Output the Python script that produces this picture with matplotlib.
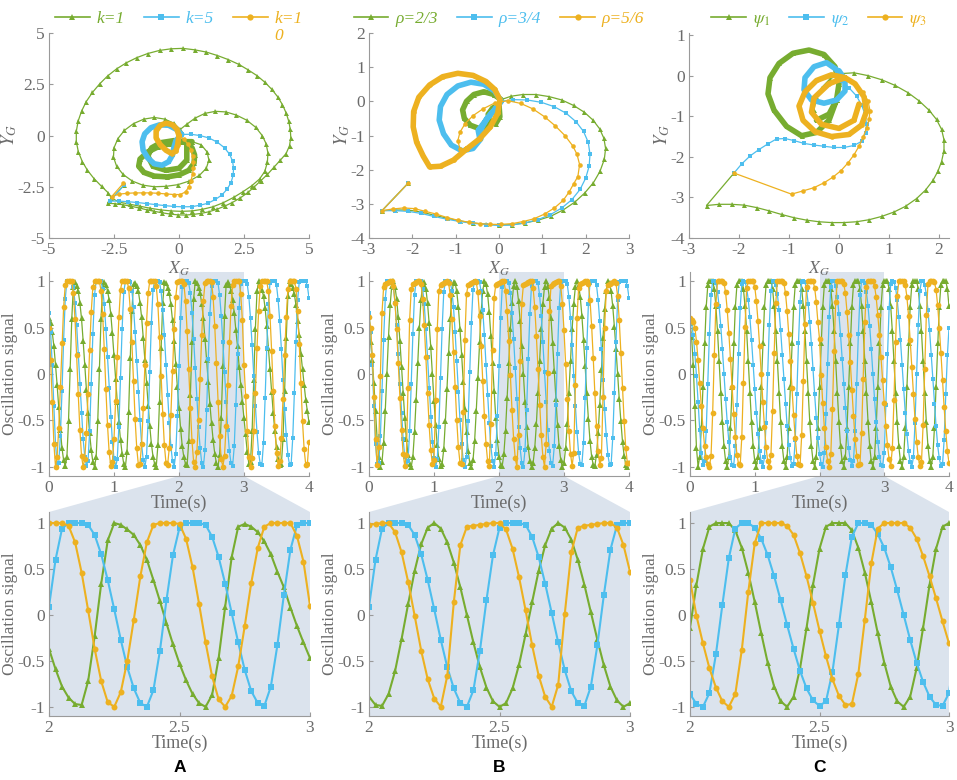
import numpy as np
import matplotlib
matplotlib.use('Agg')
import matplotlib.pyplot as plt
from matplotlib.lines import Line2D
from matplotlib.patches import Polygon

plt.rcParams['font.family'] = ['Liberation Serif', 'DejaVu Serif']
plt.rcParams['mathtext.fontset'] = 'stix'
plt.rcParams['axes.unicode_minus'] = False

GREEN = '#77AC30'
BLUE = '#4DBEEE'
ORANGE = '#EDB120'
AXIS_GRAY = '#9a9a9a'
TEXT_GRAY = '#6b6b6b'
SHADE = '#dbe3ed'

W, H = 957, 780

# ============================================================
# Phase portraits (X_G, Y_G)
# ============================================================

# --- panel A: k=1 / k=5 / k=10 ---
a_k1_path = [(-2.1, -2.4), (-2.75, -3.3), (-2.45, -3.33), (-2.15, -3.38), (-1.85, -3.45), (-1.55, -3.53),
             (-1.25, -3.62), (-0.95, -3.7), (-0.65, -3.77), (-0.35, -3.83), (-0.05, -3.87), (0.25, -3.88),
             (0.55, -3.85), (0.85, -3.8), (1.15, -3.72), (1.45, -3.6), (1.75, -3.45), (2.05, -3.27),
             (2.35, -3.05), (2.65, -2.78), (2.9, -2.5), (3.15, -2.2), (3.4, -1.9), (3.65, -1.55), (3.9, -1.2),
             (4.12, -0.88), (4.25, -0.5), (4.3, -0.1), (4.28, 0.3), (4.22, 0.7), (4.12, 1.1), (3.98, 1.5),
             (3.8, 1.88), (3.57, 2.25), (3.3, 2.6), (3.0, 2.92), (2.66, 3.2), (2.3, 3.47), (1.9, 3.7),
             (1.48, 3.9), (1.05, 4.07), (0.6, 4.18), (0.15, 4.25), (-0.3, 4.23), (-0.75, 4.15), (-1.2, 4.0),
             (-1.62, 3.8), (-2.02, 3.55), (-2.4, 3.25), (-2.75, 2.9), (-3.05, 2.52), (-3.33, 2.1),
             (-3.57, 1.65), (-3.75, 1.18), (-3.88, 0.7), (-3.95, 0.2), (-3.95, -0.3), (-3.87, -0.8),
             (-3.72, -1.27), (-3.52, -1.7), (-3.27, -2.1), (-2.98, -2.48), (-2.72, -2.8), (-2.6, -3.05),
             (-2.3, -3.25), (-1.9, -3.35), (-1.5, -3.45), (-1.1, -3.55), (-0.7, -3.63), (-0.3, -3.68),
             (0.1, -3.7), (0.5, -3.68), (0.9, -3.6), (1.3, -3.48), (1.7, -3.28), (2.1, -3.02), (2.45, -2.75),
             (2.8, -2.45), (3.1, -2.12), (3.3, -1.75), (3.4, -1.3), (3.42, -0.85), (3.35, -0.4), (3.2, 0.0),
             (2.95, 0.4), (2.6, 0.75), (2.2, 1.0), (1.8, 1.15), (1.4, 1.18), (1.0, 1.08), (0.62, 0.85),
             (0.3, 0.55), (0.05, 0.3), (-0.2, 0.6), (-0.55, 0.8), (-0.95, 0.88), (-1.35, 0.8), (-1.75, 0.58),
             (-2.1, 0.25), (-2.35, -0.15), (-2.5, -0.6), (-2.52, -1.05), (-2.4, -1.5), (-2.15, -1.9),
             (-1.8, -2.22), (-1.4, -2.42), (-0.95, -2.5), (-0.5, -2.48), (-0.05, -2.4), (0.4, -2.22),
             (0.78, -1.95), (1.05, -1.6), (1.15, -1.2), (1.08, -0.8), (0.85, -0.45), (0.5, -0.3)]
a_k1_loop = [(0.5, -0.3), (0.1, -0.3), (-0.35, -0.4), (-0.8, -0.55), (-1.2, -0.8), (-1.5, -1.15),
             (-1.55, -1.5), (-1.35, -1.8), (-0.95, -1.98), (-0.45, -2.02), (0.0, -1.92), (0.38, -1.7),
             (0.58, -1.35), (0.6, -0.95), (0.5, -0.6), (0.3, -0.35), (-0.2, -0.25), (-0.7, -0.35),
             (-1.05, -0.6), (-1.2, -1.0), (-1.0, -1.5), (-0.5, -1.7), (0.0, -1.6), (0.3, -1.2), (0.3, -0.35)]
a_k5_path = [(-2.1, -2.4), (-2.65, -3.2), (-2.3, -3.2), (-1.95, -3.23), (-1.6, -3.27), (-1.25, -3.32),
             (-0.9, -3.37), (-0.55, -3.42), (-0.2, -3.46), (0.15, -3.48), (0.5, -3.47), (0.82, -3.4),
             (1.12, -3.3), (1.4, -3.12), (1.65, -2.9), (1.85, -2.62), (2.0, -2.3), (2.08, -1.95),
             (2.1, -1.6), (2.06, -1.25), (1.95, -0.92), (1.75, -0.6), (1.48, -0.33), (1.15, -0.12),
             (0.8, 0.0), (0.45, 0.06), (0.1, 0.05)]
a_k5_loop = [(0.1, 0.05), (-0.1, 0.3), (-0.4, 0.5), (-0.75, 0.52), (-1.08, 0.38), (-1.32, 0.08),
             (-1.42, -0.3), (-1.38, -0.72), (-1.2, -1.1), (-0.95, -1.38), (-0.65, -1.45), (-0.4, -1.28),
             (-0.25, -0.95), (-0.2, -0.6), (-0.12, -0.25), (0.1, 0.05)]
a_k10_path = [(-2.14, -2.33), (-2.59, -2.98), (-2.3, -2.86), (-2.0, -2.82), (-1.7, -2.8), (-1.4, -2.8),
              (-1.1, -2.8), (-0.8, -2.82), (-0.5, -2.85), (-0.2, -2.88), (0.05, -2.88), (0.25, -2.75),
              (0.38, -2.5), (0.46, -2.2), (0.52, -1.9), (0.55, -1.6), (0.55, -1.3), (0.52, -1.0),
              (0.46, -0.7), (0.35, -0.42), (0.18, -0.18), (0.0, 0.0)]
a_k10_loop = [(0.0, 0.0), (-0.08, 0.3), (-0.25, 0.52), (-0.5, 0.6), (-0.72, 0.5), (-0.88, 0.22),
              (-0.88, -0.12), (-0.72, -0.45), (-0.5, -0.72), (-0.28, -0.88), (-0.12, -0.75),
              (-0.05, -0.45), (-0.02, -0.15), (0.0, 0.0)]

# --- panel B: rho=2/3 / 3/4 / 5/6 ---
b_r23_path = [(-2.1, -2.4), (-2.7, -3.2), (-2.4, -3.18), (-2.1, -3.18), (-1.8, -3.24), (-1.5, -3.33),
              (-1.2, -3.42), (-0.9, -3.5), (-0.6, -3.56), (-0.3, -3.6), (0.0, -3.62), (0.3, -3.61),
              (0.6, -3.56), (0.9, -3.48), (1.2, -3.36), (1.48, -3.18), (1.75, -2.95), (1.98, -2.68),
              (2.18, -2.38), (2.33, -2.05), (2.43, -1.7), (2.46, -1.38), (2.42, -1.08), (2.32, -0.8),
              (2.17, -0.55), (1.97, -0.32), (1.72, -0.12), (1.45, 0.04), (1.15, 0.14), (0.85, 0.2),
              (0.55, 0.2), (0.28, 0.15), (0.05, 0.05)]
b_r23_loop = [(0.05, 0.05), (-0.12, 0.2), (-0.35, 0.28), (-0.58, 0.2), (-0.75, 0.0), (-0.84, -0.25),
              (-0.8, -0.5), (-0.66, -0.7), (-0.45, -0.8), (-0.22, -0.72), (-0.06, -0.5), (0.0, -0.22),
              (0.0, -0.1), (-0.15, -0.2), (-0.25, -0.38), (-0.22, -0.58), (-0.08, -0.66), (0.02, -0.45),
              (0.0, -0.1)]
b_r34_path = [(-2.1, -2.4), (-2.7, -3.2), (-2.4, -3.2), (-2.1, -3.22), (-1.8, -3.28), (-1.5, -3.37),
              (-1.2, -3.45), (-0.9, -3.52), (-0.6, -3.57), (-0.3, -3.61), (0.0, -3.63), (0.3, -3.62),
              (0.6, -3.56), (0.9, -3.46), (1.18, -3.32), (1.45, -3.12), (1.68, -2.88), (1.87, -2.58),
              (2.0, -2.25), (2.08, -1.9), (2.1, -1.55), (2.06, -1.2), (1.95, -0.88), (1.78, -0.6),
              (1.55, -0.35), (1.28, -0.16), (0.98, -0.03), (0.65, 0.04), (0.32, 0.05), (0.05, 0.0)]
b_r34_loop = [(0.05, 0.0), (-0.1, 0.3), (-0.35, 0.5), (-0.65, 0.56), (-0.95, 0.45), (-1.2, 0.2),
              (-1.35, -0.15), (-1.38, -0.55), (-1.28, -0.95), (-1.1, -1.28), (-0.85, -1.45), (-0.6, -1.38),
              (-0.42, -1.1), (-0.4, -0.78), (-0.28, -0.5), (-0.1, -0.25), (0.05, 0.0), (-0.3, -0.55),
              (-0.48, -0.85), (-0.45, -1.05)]
b_r56_path = [(-2.1, -2.4), (-2.7, -3.2), (-2.45, -3.15), (-2.2, -3.12), (-1.95, -3.14), (-1.7, -3.22),
              (-1.45, -3.3), (-1.2, -3.4), (-0.95, -3.48), (-0.7, -3.54), (-0.45, -3.58), (-0.2, -3.6),
              (0.05, -3.6), (0.3, -3.58), (0.55, -3.52), (0.8, -3.44), (1.05, -3.3), (1.28, -3.12),
              (1.48, -2.9), (1.62, -2.65), (1.72, -2.42), (1.82, -2.2), (1.86, -1.85), (1.8, -1.55),
              (1.7, -1.3), (1.52, -1.0), (1.3, -0.72), (1.05, -0.45), (0.78, -0.22), (0.5, -0.06),
              (0.2, 0.02), (-0.1, -0.05), (-0.37, -0.22), (-0.6, -0.42), (-0.78, -0.65), (-0.9, -0.9),
              (-0.95, -1.15), (-0.9, -1.4), (-0.75, -1.4)]
b_r56_loop = [(-0.75, -1.4), (-0.45, -1.1), (-0.2, -0.75), (-0.03, -0.35), (0.02, 0.05), (-0.1, 0.35),
              (-0.3, 0.58), (-0.6, 0.76), (-0.95, 0.82), (-1.3, 0.72), (-1.6, 0.48), (-1.85, 0.12),
              (-1.97, -0.3), (-1.98, -0.75), (-1.9, -1.2), (-1.75, -1.6), (-1.6, -1.92), (-1.35, -1.9),
              (-1.05, -1.72), (-0.75, -1.4)]

# --- panel C: psi_1 / psi_2 / psi_3 ---
c_p1_path = [(-2.1, -2.4), (-2.65, -3.2), (-2.4, -3.17), (-2.15, -3.17), (-1.9, -3.19), (-1.65, -3.25),
             (-1.4, -3.33), (-1.15, -3.42), (-0.9, -3.5), (-0.65, -3.56), (-0.4, -3.6), (-0.15, -3.62),
             (0.1, -3.62), (0.35, -3.6), (0.6, -3.55), (0.85, -3.47), (1.1, -3.36), (1.33, -3.22),
             (1.55, -3.03), (1.73, -2.82), (1.88, -2.58), (1.98, -2.35), (2.05, -2.12), (2.1, -1.85),
             (2.1, -1.58), (2.05, -1.32), (1.95, -1.08), (1.8, -0.85), (1.6, -0.62), (1.38, -0.42),
             (1.12, -0.24), (0.85, -0.1), (0.58, 0.0), (0.3, 0.07), (0.05, 0.05), (-0.18, -0.08),
             (-0.35, -0.3), (-0.45, -0.55), (-0.5, -0.84), (-0.45, -1.1)]
c_p1_loop = [(-0.45, -1.1), (-0.2, -0.95), (-0.05, -0.6), (0.0, -0.2), (-0.08, 0.22), (-0.3, 0.52),
             (-0.6, 0.63), (-0.92, 0.55), (-1.2, 0.3), (-1.38, -0.05), (-1.42, -0.45), (-1.3, -0.85),
             (-1.05, -1.25), (-0.75, -1.48), (-0.45, -1.4), (-0.2, -1.1), (-0.05, -0.6)]
c_p2_path = [(-2.1, -2.4), (-1.95, -2.18), (-1.78, -1.98), (-1.6, -1.82), (-1.42, -1.68), (-1.25, -1.56),
             (-1.08, -1.55), (-0.9, -1.6), (-0.7, -1.67), (-0.5, -1.71), (-0.3, -1.74), (-0.1, -1.77),
             (0.1, -1.77), (0.3, -1.72), (0.45, -1.62), (0.53, -1.42), (0.55, -1.18), (0.52, -0.95),
             (0.45, -0.72), (0.35, -0.5), (0.2, -0.3), (0.05, -0.12)]
c_p2_loop = [(0.05, -0.12), (-0.05, 0.15), (-0.25, 0.32), (-0.5, 0.22), (-0.68, -0.05), (-0.7, -0.35),
             (-0.55, -0.6), (-0.3, -0.68), (-0.05, -0.6), (0.12, -0.38), (0.12, -0.1), (0.0, 0.12)]
c_p3_path = [(-2.1, -2.4), (-0.95, -2.92), (-0.72, -2.84), (-0.5, -2.76), (-0.3, -2.64), (-0.12, -2.5),
             (0.04, -2.34), (0.18, -2.15), (0.3, -1.95), (0.4, -1.74), (0.48, -1.52), (0.55, -1.3),
             (0.6, -1.08), (0.62, -0.86), (0.58, -0.62), (0.48, -0.4), (0.32, -0.2), (0.12, -0.05)]
c_p3_loop = [(0.12, -0.05), (-0.15, 0.02), (-0.45, -0.12), (-0.68, -0.4), (-0.8, -0.75), (-0.72, -1.1),
             (-0.48, -1.38), (-0.15, -1.5), (0.2, -1.45), (0.45, -1.22), (0.55, -0.88), (0.5, -0.52),
             (0.32, -0.2), (0.12, -0.05), (-0.2, -0.2), (-0.5, -0.55), (-0.55, -0.9), (-0.35, -1.2),
             (0.0, -1.3), (0.3, -1.1), (0.4, -0.7)]

# ============================================================
# Oscillation signals, one value every 0.025 s from 0 to 4 s
# ============================================================
T_STEP = 0.025

# k=5 and rho=3/4 give the same signal
sig_blue_ab = [
    0.66, 0.45, 0.10, -0.35, -0.75, -0.97, -0.96, -0.67, -0.18, 0.37,
    0.81, 1.00, 1.00, 1.00, 1.00, 0.94, 0.77, 0.53, 0.22, -0.11,
    -0.42, -0.70, -0.89, -0.99, -0.94, -0.62, -0.11, 0.43, 0.85, 1.00,
    1.00, 1.00, 1.00, 0.92, 0.75, 0.49, 0.18, -0.15, -0.46, -0.73,
    -0.91, -1.00, -0.92, -0.57, -0.04, 0.49, 0.88, 1.00, 1.00, 1.00,
    0.99, 0.90, 0.72, 0.45, 0.14, -0.19, -0.50, -0.76, -0.93, -1.00,
    -0.89, -0.51, 0.02, 0.55, 0.91, 1.00, 1.00, 1.00, 0.99, 0.89,
    0.69, 0.42, 0.10, -0.23, -0.53, -0.78, -0.94, -1.00, -0.86, -0.45,
    0.09, 0.60, 0.94, 1.00, 1.00, 1.00, 0.98, 0.87, 0.66, 0.38,
    0.06, -0.27, -0.57, -0.80, -0.96, -1.00, -0.82, -0.39, 0.16, 0.65,
    0.95, 1.00, 1.00, 1.00, 0.98, 0.85, 0.63, 0.34, 0.02, -0.30,
    -0.60, -0.83, -0.96, -0.99, -0.78, -0.33, 0.22, 0.71, 0.975, 1.00,
    1.00, 1.00, 0.97, 0.83, 0.60, 0.31, -0.02, -0.34, -0.63, -0.85,
    -0.97, -0.98, -0.74, -0.26, 0.28, 0.75, 0.985, 1.00, 1.00, 1.00,
    0.96, 0.80, 0.57, 0.27, -0.06, -0.38, -0.66, -0.87, -0.98, -0.97,
    -0.69, -0.20, 0.35, 0.80, 0.995, 1.00, 1.00, 1.00, 1.00, 0.95,
    0.82]
sig_k1 = [
    0.60, 0.55, 0.45, 0.30, 0.10, -0.12, -0.36, -0.60, -0.80, -0.93,
    -0.99, -0.90, -0.51, 0.05, 0.59, 0.94, 0.99, 0.95, 0.89, 0.77,
    0.60, 0.36, 0.10, -0.17, -0.42, -0.64, -0.82, -0.95, -1.00, -0.90,
    -0.51, 0.05, 0.59, 0.94, 0.99, 0.96, 0.90, 0.80, 0.65, 0.44,
    0.20, -0.05, -0.30, -0.52, -0.71, -0.86, -0.97, -1.00, -0.84, -0.41,
    0.17, 0.68, 0.97, 0.98, 0.95, 0.89, 0.77, 0.61, 0.39, 0.15,
    -0.10, -0.34, -0.56, -0.75, -0.89, -0.97, -1.00, -0.77, -0.30, 0.28,
    0.77, 0.99, 0.98, 0.93, 0.87, 0.75, 0.58, 0.36, 0.11, -0.14,
    -0.37, -0.59, -0.78, -0.90, -0.97, -0.98, -0.72, -0.23, 0.34, 0.81,
    1.00, 0.98, 0.93, 0.87, 0.76, 0.60, 0.38, 0.15, -0.09, -0.32,
    -0.53, -0.71, -0.86, -0.96, -1.00, -0.87, -0.47, 0.09, 0.63, 0.96,
    0.99, 0.96, 0.90, 0.80, 0.66, 0.47, 0.30, 0.08, -0.12, -0.30,
    -0.47, -0.65, -0.84, -0.97, -0.95, -0.61, -0.07, 0.49, 0.89, 1.00,
    0.97, 0.91, 0.84, 0.71, 0.52, 0.28, 0.05, -0.19, -0.42, -0.62,
    -0.79, -0.92, -0.98, -0.97, -0.70, -0.18, 0.39, 0.84, 1.00, 0.97,
    0.93, 0.86, 0.74, 0.57, 0.42, 0.22, 0.05, -0.12, -0.28, -0.40,
    -0.52]
sig_k10 = [
    0.50, 0.15, -0.30, -0.75, -1.00, -0.89, -0.58, -0.14, 0.33, 0.72,
    0.96, 1.00, 1.00, 1.00, 1.00, 0.87, 0.59, 0.20, -0.22, -0.60,
    -0.88, -1.00, -0.92, -0.64, -0.22, 0.26, 0.67, 0.94, 1.00, 1.00,
    1.00, 1.00, 0.90, 0.65, 0.27, -0.16, -0.55, -0.84, -0.99, -0.95,
    -0.70, -0.29, 0.18, 0.61, 0.91, 1.00, 1.00, 1.00, 1.00, 0.93,
    0.70, 0.34, -0.08, -0.49, -0.80, -0.98, -0.97, -0.75, -0.37, 0.10,
    0.55, 0.87, 1.00, 1.00, 1.00, 1.00, 0.95, 0.75, 0.40, -0.02,
    -0.43, -0.77, -0.96, -0.98, -0.80, -0.44, 0.03, 0.48, 0.83, 0.99,
    1.00, 1.00, 1.00, 0.97, 0.79, 0.46, 0.05, -0.37, -0.72, -0.95,
    -1.00, -0.84, -0.50, -0.05, 0.42, 0.79, 0.98, 1.00, 1.00, 1.00,
    0.99, 0.83, 0.52, 0.12, -0.30, -0.67, -0.92, -1.00, -0.88, -0.56,
    -0.12, 0.35, 0.73, 0.96, 1.00, 1.00, 1.00, 1.00, 0.86, 0.58,
    0.10, -0.24, -0.61, -0.89, -1.00, -0.91, -0.62, -0.20, 0.28, 0.68,
    0.95, 1.00, 1.00, 1.00, 1.00, 0.89, 0.63, 0.25, -0.18, -0.56,
    -0.85, -0.99, -0.94, -0.69, -0.27, 0.20, 0.62, 0.92, 1.00, 1.00,
    1.00, 1.00, 0.92, 0.68, 0.32, -0.10, -0.51, -0.81, -0.98, -0.97,
    -0.73]
sig_r23 = [
    0.45, 0.35, 0.15, -0.10, -0.40, -0.70, -0.90, -1.00, -0.95, -0.74,
    -0.40, 0.00, 0.40, 0.74, 0.95, 1.00, 0.94, 0.81, 0.61, 0.36,
    0.08, -0.20, -0.47, -0.70, -0.87, -0.97, -1.00, -0.89, -0.63, -0.28,
    0.12, 0.50, 0.80, 0.97, 0.99, 0.92, 0.77, 0.55, 0.29, 0.00,
    -0.29, -0.55, -0.77, -0.92, -0.99, -0.97, -0.81, -0.51, -0.16, 0.23,
    0.59, 0.86, 0.99, 0.98, 0.89, 0.72, 0.48, 0.21, -0.09, -0.38,
    -0.63, -0.83, -0.96, -1.00, -0.93, -0.72, -0.40, -0.04, 0.34, 0.67,
    0.90, 1.00, 0.97, 0.86, 0.67, 0.41, 0.12, -0.18, -0.47, -0.71,
    -0.89, -0.98, -0.99, -0.86, -0.61, -0.26, 0.12, 0.48, 0.77, 0.95,
    1.00, 0.94, 0.79, 0.57, 0.30, 0.00, -0.30, -0.57, -0.79, -0.94,
    -1.00, -0.96, -0.80, -0.54, -0.21, 0.14, 0.48, 0.76, 0.94, 1.00,
    0.95, 0.82, 0.60, 0.33, 0.03, -0.27, -0.55, -0.78, -0.93, -1.00,
    -0.96, -0.80, -0.54, -0.21, 0.14, 0.48, 0.76, 0.94, 1.00, 0.96,
    0.83, 0.63, 0.37, 0.09, -0.21, -0.48, -0.72, -0.89, -0.98, -0.99,
    -0.87, -0.64, -0.33, 0.04, 0.39, 0.70, 0.90, 1.00, 0.98, 0.89,
    0.73, 0.51, 0.27, 0.00, -0.27, -0.51, -0.73, -0.88, -0.98, -1.00,
    -0.96]
sig_r56 = [
    0.62, 0.50, 0.20, -0.25, -0.70, -0.98, -0.79, -0.02, 0.66, 0.94,
    0.97, 0.98, 0.99, 1.00, 1.00, 0.95, 0.77, 0.48, 0.12, -0.26,
    -0.60, -0.86, -0.99, -0.87, -0.15, 0.58, 0.92, 0.97, 0.98, 0.99,
    1.00, 1.00, 0.97, 0.81, 0.53, 0.18, -0.20, -0.55, -0.82, -0.97,
    -0.93, -0.28, 0.48, 0.90, 0.96, 0.97, 0.98, 0.99, 1.00, 0.98,
    0.85, 0.59, 0.24, -0.14, -0.50, -0.79, -0.96, -0.97, -0.41, 0.37,
    0.86, 0.96, 0.97, 0.98, 0.99, 1.00, 0.99, 0.88, 0.63, 0.30,
    -0.08, -0.45, -0.75, -0.94, -0.99, -0.54, 0.26, 0.82, 0.96, 0.97,
    0.98, 0.99, 1.00, 1.00, 0.90, 0.68, 0.36, -0.01, -0.39, -0.70,
    -0.91, -1.00, -0.66, 0.14, 0.76, 0.96, 0.97, 0.98, 0.99, 1.00,
    1.00, 0.93, 0.72, 0.41, 0.05, -0.33, -0.66, -0.89, -1.00, -0.76,
    0.01, 0.68, 0.95, 0.97, 0.98, 0.99, 1.00, 1.00, 0.95, 0.76,
    0.47, 0.11, -0.27, -0.61, -0.86, -0.99, -0.85, -0.12, 0.60, 0.93,
    0.97, 0.98, 0.99, 1.00, 1.00, 0.97, 0.80, 0.52, 0.17, -0.21,
    -0.56, -0.83, -0.98, -0.91, -0.25, 0.50, 0.90, 0.96, 0.97, 0.98,
    0.99, 1.00, 0.98, 0.84, 0.58, 0.23, -0.15, -0.51, -0.80, -0.96,
    -0.96]
sig_psi1 = [
    0.55, 0.40, 0.10, -0.35, -0.80, -1.00, -0.89, -0.58, -0.14, 0.33,
    0.72, 0.96, 1.00, 1.00, 1.00, 0.92, 0.73, 0.46, 0.14, -0.20,
    -0.52, -0.78, -0.94, -1.00, -0.89, -0.58, -0.14, 0.33, 0.72, 0.96,
    1.00, 1.00, 1.00, 0.92, 0.73, 0.46, 0.14, -0.20, -0.52, -0.78,
    -0.94, -1.00, -0.89, -0.58, -0.14, 0.33, 0.72, 0.96, 1.00, 1.00,
    1.00, 0.92, 0.73, 0.46, 0.14, -0.20, -0.52, -0.78, -0.94, -1.00,
    -0.89, -0.58, -0.14, 0.33, 0.72, 0.96, 1.00, 1.00, 1.00, 0.92,
    0.73, 0.46, 0.14, -0.20, -0.52, -0.78, -0.94, -1.00, -0.89, -0.58,
    -0.14, 0.33, 0.72, 0.96, 1.00, 1.00, 1.00, 0.92, 0.73, 0.46,
    0.14, -0.20, -0.52, -0.78, -0.94, -1.00, -0.89, -0.58, -0.14, 0.33,
    0.72, 0.96, 1.00, 1.00, 1.00, 0.92, 0.73, 0.46, 0.14, -0.20,
    -0.52, -0.78, -0.94, -1.00, -0.89, -0.58, -0.14, 0.33, 0.72, 0.96,
    1.00, 1.00, 1.00, 0.92, 0.73, 0.46, 0.14, -0.20, -0.52, -0.78,
    -0.94, -1.00, -0.89, -0.58, -0.14, 0.33, 0.72, 0.96, 1.00, 1.00,
    1.00, 0.92, 0.73, 0.46, 0.14, -0.20, -0.52, -0.78, -0.94, -1.00,
    -0.89, -0.58, -0.14, 0.33, 0.72, 0.96, 1.00, 1.00, 1.00, 0.92,
    0.73]
sig_psi2 = [
    0.60, 0.55, 0.42, 0.22, -0.02, -0.30, -0.60, -0.85, -0.98, -0.94,
    -0.62, -0.11, 0.43, 0.85, 1.00, 1.00, 0.98, 0.88, 0.73, 0.52,
    0.27, 0.00, -0.27, -0.52, -0.73, -0.89, -0.98, -0.99, -0.78, -0.33,
    0.22, 0.71, 0.975, 1.00, 0.99, 0.93, 0.80, 0.61, 0.37, 0.10,
    -0.16, -0.42, -0.65, -0.83, -0.95, -1.00, -0.90, -0.53, 0.00, 0.53,
    0.90, 1.00, 1.00, 0.96, 0.86, 0.69, 0.47, 0.21, -0.05, -0.32,
    -0.56, -0.77, -0.91, -0.99, -0.975, -0.71, -0.22, 0.33, 0.78, 0.99,
    1.00, 0.99, 0.91, 0.76, 0.56, 0.32, 0.05, -0.22, -0.47, -0.69,
    -0.86, -0.97, -1.00, -0.85, -0.43, 0.11, 0.62, 0.94, 1.00, 1.00,
    0.95, 0.83, 0.65, 0.42, 0.16, -0.11, -0.37, -0.61, -0.80, -0.93,
    -0.99, -0.94, -0.62, -0.11, 0.43, 0.85, 1.00, 1.00, 0.98, 0.88,
    0.73, 0.52, 0.27, 0.00, -0.27, -0.52, -0.73, -0.89, -0.98, -0.99,
    -0.85, -0.33, 0.22, 0.71, 0.975, 1.00, 0.99, 0.93, 0.80, 0.61,
    0.37, 0.10, -0.16, -0.42, -0.65, -0.83, -0.95, -1.00, -0.90, -0.53,
    0.00, 0.53, 0.90, 1.00, 1.00, 0.96, 0.86, 0.69, 0.47, 0.21,
    -0.05, -0.32, -0.56, -0.77, -0.91, -0.99, -0.975, -0.71, -0.22, 0.20,
    0.50]
sig_psi3 = [
    0.60, 0.58, 0.56, 0.50, 0.35, 0.15, -0.10, -0.35, -0.58, -0.78,
    -0.90, -0.97, -1.00, -0.88, -0.42, 0.20, 0.75, 1.00, 1.00, 1.00,
    1.00, 0.98, 0.88, 0.69, 0.44, 0.16, -0.14, -0.43, -0.68, -0.87,
    -0.97, -0.98, -0.68, -0.10, 0.51, 0.93, 1.00, 1.00, 1.00, 1.00,
    0.94, 0.79, 0.57, 0.30, 0.00, -0.30, -0.57, -0.79, -0.94, -1.00,
    -0.87, -0.40, 0.23, 0.77, 1.00, 1.00, 1.00, 1.00, 0.98, 0.87,
    0.68, 0.43, 0.14, -0.15, -0.44, -0.69, -0.88, -0.97, -0.98, -0.66,
    -0.08, 0.54, 0.94, 1.00, 1.00, 1.00, 1.00, 0.93, 0.78, 0.56,
    0.38, -0.01, -0.31, -0.58, -0.79, -0.94, -1.00, -0.86, -0.38, 0.25,
    0.78, 1.00, 1.00, 1.00, 1.00, 0.97, 0.87, 0.67, 0.42, 0.13,
    -0.17, -0.45, -0.70, -0.88, -0.98, -0.97, -0.64, -0.05, 0.56, 0.94,
    1.00, 1.00, 1.00, 1.00, 0.95, 0.83, 0.64, 0.42, 0.18, -0.07,
    -0.31, -0.56, -0.77, -0.92, -0.99, -0.80, -0.28, 0.35, 0.84, 1.00,
    1.00, 1.00, 1.00, 0.96, 0.83, 0.63, 0.37, 0.08, -0.22, -0.49,
    -0.73, -0.90, -0.99, -0.95, -0.55, 0.05, 0.64, 0.97, 1.00, 1.00,
    1.00, 0.99, 0.91, 0.74, 0.50, 0.23, -0.07, -0.36, -0.62, -0.83,
    -0.96]

# legend text; the k=10 entry wraps onto a second line in the original
labels_a = ['k=1', 'k=5', 'k=1']
label_a_wrap = '0'
labels_b = ['ρ=2/3', 'ρ=3/4', 'ρ=5/6']
labels_c = [r'$\psi_{\mathit{1}}$', r'$\psi_{\mathit{2}}$', r'$\psi_{\mathit{3}}$']
panel_tags = ['A', 'B', 'C']

# colour / marker per series slot (first, second, third curve of each panel)
STYLES = [(GREEN, '^', 3.6), (BLUE, 's', 2.8), (ORANGE, 'o', 3.3)]
LEGEND_PROP = {'family': 'Liberation Serif', 'style': 'italic', 'size': 12.5}


def px_box(left, top, right, bottom):
    """Convert a pixel box of the 957x780 canvas to a figure rect."""
    return [left / W, 1 - bottom / H, (right - left) / W, (bottom - top) / H]


def style_axes(ax):
    for side in ('top', 'right'):
        ax.spines[side].set_visible(False)
    for side in ('left', 'bottom'):
        ax.spines[side].set_color(AXIS_GRAY)
        ax.spines[side].set_linewidth(0.8)
    ax.tick_params(direction='in', length=3, width=0.8, color=AXIS_GRAY,
                   labelcolor=TEXT_GRAY, labelsize=12.5, pad=3)


def draw_phase(ax, series, labels):
    for (path, loop), (color, marker, ms) in zip(series, STYLES):
        px, py = zip(*path)
        lx, ly = zip(*loop)
        ax.plot(px, py, color=color, lw=0.9, marker=marker, ms=ms, mew=0)
        ax.plot(lx, ly, color=color, lw=4.0, marker=marker, ms=ms, mew=0,
                solid_joinstyle='round', solid_capstyle='round')
    handles = [Line2D([], [], color=c, marker=m, ms=4.5, mew=0, lw=1.2) for c, m, _ in STYLES]
    leg = ax.legend(handles, labels, loc='upper center', bbox_to_anchor=(0.5, 1.185), ncol=3,
                    frameon=False, handlelength=2.0, handletextpad=0.4, columnspacing=1.1,
                    prop=LEGEND_PROP)
    for txt, (c, _, _) in zip(leg.get_texts(), STYLES):
        txt.set_color(c)
    style_axes(ax)
    ax.set_xlabel('$X_G$', color=TEXT_GRAY, fontsize=12.5, labelpad=1)
    ax.set_ylabel('$Y_G$', color=TEXT_GRAY, fontsize=13.5, labelpad=-1)
    # keep the X_G label above the white background of the axes below
    ax.set_zorder(2)
    return leg


def draw_signals(ax, signals, lw, scale):
    for values, (color, marker, ms) in zip(signals, STYLES):
        t = np.arange(len(values)) * T_STEP
        ax.plot(t, values, color=color, lw=lw, marker=marker, ms=ms * scale, mew=0)
    ax.set_ylim(-1.1, 1.1)
    ax.set_yticks([-1, -0.5, 0, 0.5, 1])
    ax.set_yticklabels(['-1', '-0.5', '0', '0.5', '1'])
    ax.set_ylabel('Oscillation signal', color=TEXT_GRAY, fontsize=12.5, labelpad=0)
    ax.set_xlabel('Time(s)', color=TEXT_GRAY, fontsize=13, labelpad=-1)
    style_axes(ax)


def main():
    fig = plt.figure(figsize=(W / 100, H / 100), dpi=100)

    top_boxes = [(49, 33, 309, 238), (369, 33, 629, 238), (689, 33, 949, 238)]
    mid_boxes = [(49, 272, 309, 476), (369, 272, 629, 476), (690, 272, 949, 476)]
    bot_boxes = [(49, 512, 310, 716), (369, 512, 630, 716), (690, 512, 949, 716)]

    phase_sets = [
        [(a_k1_path, a_k1_loop), (a_k5_path, a_k5_loop), (a_k10_path, a_k10_loop)],
        [(b_r23_path, b_r23_loop), (b_r34_path, b_r34_loop), (b_r56_path, b_r56_loop)],
        [(c_p1_path, c_p1_loop), (c_p2_path, c_p2_loop), (c_p3_path, c_p3_loop)],
    ]
    signal_sets = [
        [sig_k1, sig_blue_ab, sig_k10],
        [sig_r23, sig_blue_ab, sig_r56],
        [sig_psi1, sig_psi2, sig_psi3],
    ]
    label_sets = [labels_a, labels_b, labels_c]
    phase_lims = [((-5, 5), (-5, 5), [-5, -2.5, 0, 2.5, 5], [-5, -2.5, 0, 2.5, 5]),
                  ((-3, 3), (-4, 2), [-3, -2, -1, 0, 1, 2, 3], [-4, -3, -2, -1, 0, 1, 2]),
                  ((-3, 2.2), (-4, 1.05), [-3, -2, -1, 0, 1, 2], [-4, -3, -2, -1, 0, 1])]

    legends = []
    for col in range(3):
        # ---- top: phase portrait ----
        ax_t = fig.add_axes(px_box(*top_boxes[col]))
        legends.append(draw_phase(ax_t, phase_sets[col], label_sets[col]))
        xl, yl, xt, yt = phase_lims[col]
        ax_t.set_xlim(*xl)
        ax_t.set_ylim(*yl)
        ax_t.set_xticks(xt)
        ax_t.set_yticks(yt)
        ax_t.set_xticklabels([f'{v:g}' for v in xt])
        ax_t.set_yticklabels([f'{v:g}' for v in yt])

        # ---- middle: full 0-4 s ----
        ax_m = fig.add_axes(px_box(*mid_boxes[col]))
        ax_m.axvspan(2, 3, color=SHADE, zorder=0, lw=0)
        draw_signals(ax_m, signal_sets[col], lw=0.9, scale=1.25)
        ax_m.set_xlim(0, 4)
        ax_m.set_xticks([0, 1, 2, 3, 4])

        # ---- bottom: zoom 2-3 s ----
        ax_b = fig.add_axes(px_box(*bot_boxes[col]))
        ax_b.set_facecolor(SHADE)
        draw_signals(ax_b, signal_sets[col], lw=1.5, scale=1.3)
        ax_b.set_xlim(2, 3)
        ax_b.set_ylim(-1.1, 1.12)
        ax_b.set_xticks([2, 2.5, 3])
        ax_b.set_xticklabels(['2', '2.5', '3'])

        # connector between the shaded span and the zoomed axes
        m = ax_m.get_position()
        b = ax_b.get_position()
        poly = Polygon([(m.x0 + 0.5 * m.width, m.y0), (m.x0 + 0.75 * m.width, m.y0),
                        (b.x1, b.y1), (b.x0, b.y1)],
                       closed=True, transform=fig.transFigure, facecolor=SHADE,
                       edgecolor='none', zorder=-1)
        fig.add_artist(poly)

        fig.text(b.x0 + 0.5 * b.width, 1 - 767 / H, panel_tags[col], ha='center', va='center',
                 fontsize=12.5, fontweight='bold', family='Liberation Sans')

    # second line of the wrapped "k=10" legend entry
    fig.canvas.draw()
    bb = legends[0].get_texts()[2].get_window_extent()
    fig.text(bb.x0 / W, (bb.y0 - 1) / H, label_a_wrap, ha='left', va='top',
             color=ORANGE, **{'family': LEGEND_PROP['family'], 'style': 'italic',
                              'size': LEGEND_PROP['size']})

    fig.savefig('out.png', dpi=100)
    plt.close(fig)


if __name__ == '__main__':
    main()
